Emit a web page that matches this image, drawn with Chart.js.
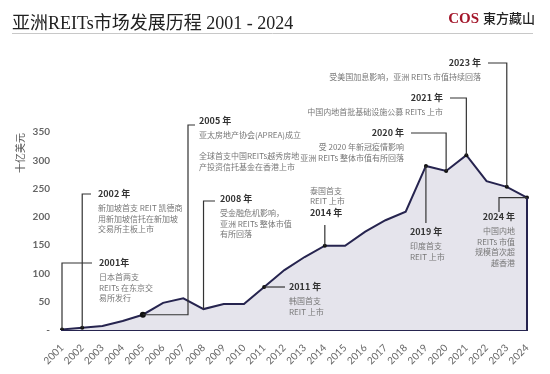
<!DOCTYPE html>
<html>
<head>
<meta charset="utf-8">
<script src="https://cdn.jsdelivr.net/npm/chart.js@4"></script>
<style>
    html, body { margin: 0; padding: 0; background: #fff; }
    #wrap { width: 550px; height: 374px; position: relative; }
</style>
</head>
<body>
<div id="wrap"><canvas id="reits-chart" width="550" height="374"></canvas></div>
<script>
const years = ['2001', '2002', '2003', '2004', '2005', '2006', '2007', '2008', '2009', '2010', '2011', '2012',
    '2013', '2014', '2015', '2016', '2017', '2018', '2019', '2020', '2021', '2022', '2023', '2024'];
// 亚洲 REITs 市值, 十亿美元
const marketCap = [1, 4, 7, 16, 27, 48, 56, 37, 46, 46, 76, 106,
    129, 149, 149, 174, 194, 209, 290, 281, 309, 263, 253, 234];
const yTicks = [0, 50, 100, 150, 200, 250, 300, 350];
const markedYears = ['2001', '2002', '2005', '2011', '2014', '2019', '2020', '2021', '2023', '2024'];

const chartTitle = '亚洲REITs市场发展历程 2001 - 2024';
const yAxisTitle = '十亿美元';

const milestones = [
    { year: '2001', path: p => [[p.x, 263], [92, 263]], x: 99, y: 263, align: 'left',
      head: '2001年', lines: ['日本首两支', 'REITs 在东京交', '易所发行'] },
    { year: '2002', path: p => [[p.x, 194], [91, 194]], x: 98, y: 194, align: 'left',
      head: '2002 年', lines: ['新加坡首支 REIT 凯德商', '用新加坡信托在新加坡', '交易所主板上市'] },
    { year: '2005', path: p => [[188, p.y], [188, 125], [195, 125]], x: 199, y: 121, align: 'left',
      head: '2005 年', lines: ['亚太房地产协会(APREA)成立', '', '全球首支中国REITs越秀房地', '产投资信托基金在香港上市'] },
    { year: '2008', path: p => [[p.x, 201], [215, 201]], x: 220, y: 199, align: 'left',
      head: '2008 年', lines: ['受金融危机影响，', '亚洲 REITs 整体市值', '有所回落'] },
    { year: '2011', path: p => [[285, p.y]], x: 289, y: 287, align: 'left',
      head: '2011 年', lines: ['韩国首支', 'REIT 上市'] },
    { year: '2014', path: p => [[p.x, 225]], x: 310, y: 213, align: 'left',
      head: '2014 年', lines: [], above: ['泰国首支', 'REIT 上市'] },
    { year: '2019', path: p => [[p.x, 223]], x: 410, y: 232, align: 'left',
      head: '2019 年', lines: ['印度首支', 'REIT 上市'] },
    { year: '2020', path: p => [[p.x, 133], [411, 133]], x: 404, y: 133, align: 'right',
      head: '2020 年', lines: ['受 2020 年新冠疫情影响', '亚洲 REITs 整体市值有所回落'] },
    { year: '2021', path: p => [[p.x, 98], [450, 98]], x: 443, y: 98, align: 'right',
      head: '2021 年', lines: ['中国内地首批基础设施公募 REITs 上市'] },
    { year: '2023', path: p => [[p.x, 63], [488, 63]], x: 481, y: 63, align: 'right',
      head: '2023 年', lines: ['受美国加息影响，亚洲 REITs 市值持续回落'] },
    { year: '2024', path: p => [[499, p.y], [499, 212]], x: 515, y: 217, align: 'right',
      head: '2024 年', lines: ['中国内地', 'REITs 市值', '规模首次超', '越香港'] }
];

const CJK = '"Noto Sans CJK SC", "Noto Sans", sans-serif';
const LINE_COLOR = '#26244f';

const decorPlugin = {
    id: 'decor',
    afterDraw(chart) {
        const ctx = chart.ctx;
        const xs = chart.scales.x;
        const ys = chart.scales.y;
        ctx.save();

        // header
        ctx.fillStyle = '#222';
        ctx.font = '18px "Liberation Serif", ' + CJK;
        ctx.textBaseline = 'alphabetic';
        ctx.textAlign = 'left';
        ctx.fillText(chartTitle, 12, 29);

        ctx.textAlign = 'right';
        ctx.font = '500 13px ' + CJK;
        ctx.fillStyle = '#222';
        ctx.fillText('東方藏山', 535, 23);
        const brandW = ctx.measureText('東方藏山').width;
        ctx.font = 'bold 15px "Liberation Serif", serif';
        ctx.fillStyle = '#a3162a';
        ctx.fillText('COS', 535 - brandW - 4, 23);

        ctx.strokeStyle = '#c8c8c8';
        ctx.lineWidth = 1;
        ctx.beginPath();
        ctx.moveTo(12, 33.5);
        ctx.lineTo(533, 33.5);
        ctx.stroke();

        // y axis title
        ctx.save();
        ctx.translate(20, 153);
        ctx.rotate(-Math.PI / 2);
        ctx.font = '10px ' + CJK;
        ctx.fillStyle = '#555';
        ctx.textAlign = 'center';
        ctx.textBaseline = 'middle';
        ctx.fillText(yAxisTitle, 0, 0);
        ctx.restore();

        // right edge of the area
        const last = years.length - 1;
        ctx.strokeStyle = LINE_COLOR;
        ctx.lineWidth = 2;
        ctx.beginPath();
        ctx.moveTo(xs.getPixelForValue(last), ys.getPixelForValue(marketCap[last]));
        ctx.lineTo(xs.getPixelForValue(last), ys.getPixelForValue(0));
        ctx.stroke();

        // milestone connectors and notes
        milestones.forEach(m => {
            const i = years.indexOf(m.year);
            const p = { x: xs.getPixelForValue(i), y: ys.getPixelForValue(marketCap[i]) };
            ctx.strokeStyle = '#333';
            ctx.lineWidth = 1.2;
            ctx.beginPath();
            ctx.moveTo(p.x, p.y);
            m.path(p).forEach(pt => ctx.lineTo(pt[0], pt[1]));
            ctx.stroke();

            ctx.textAlign = m.align;
            ctx.textBaseline = 'middle';
            ctx.font = 'bold 9px ' + CJK;
            ctx.fillStyle = '#333';
            ctx.fillText(m.head, m.x, m.y);

            ctx.font = '8px ' + CJK;
            ctx.fillStyle = '#777';
            m.lines.forEach((t, k) => ctx.fillText(t, m.x, m.y + 14 + k * 10.5));
            (m.above || []).forEach((t, k, arr) => ctx.fillText(t, m.x, m.y - 12 - (arr.length - 1 - k) * 10.5));
        });

        ctx.restore();
    }
};

new Chart(document.getElementById('reits-chart'), {
    type: 'line',
    data: {
        labels: years,
        datasets: [{
            data: marketCap,
            fill: 'origin',
            backgroundColor: '#e5e4ec',
            borderColor: LINE_COLOR,
            borderWidth: 2,
            tension: 0,
            pointRadius: years.map(y => y === '2005' ? 3 : (markedYears.includes(y) ? 2 : 0)),
            pointBackgroundColor: '#111',
            pointBorderWidth: 0
        }]
    },
    options: {
        responsive: false,
        animation: false,
        layout: { padding: { top: 132, right: 23, left: 0, bottom: 0 } },
        plugins: {
            legend: { display: false },
            tooltip: { enabled: false }
        },
        scales: {
            x: {
                offset: false,
                grid: { display: false },
                border: { display: true, color: LINE_COLOR, width: 2 },
                ticks: {
                    autoSkip: false,
                    minRotation: 45,
                    maxRotation: 45,
                    padding: 4,
                    color: '#666',
                    font: { family: 'Lato, "Noto Sans", sans-serif', size: 10 }
                },
                afterFit: scale => { scale.height = 44; }
            },
            y: {
                min: 0,
                max: 350,
                grid: { display: false },
                border: { display: false },
                afterBuildTicks: scale => { scale.ticks = yTicks.map(v => ({ value: v })); },
                ticks: {
                    padding: 4,
                    color: '#666',
                    font: { family: 'Lato, "Noto Sans", sans-serif', size: 10, weight: 'bold' },
                    callback: v => v === 0 ? '-' : v
                },
                afterFit: scale => { scale.width = 62; }
            }
        }
    },
    plugins: [decorPlugin]
});
</script>
</body>
</html>
